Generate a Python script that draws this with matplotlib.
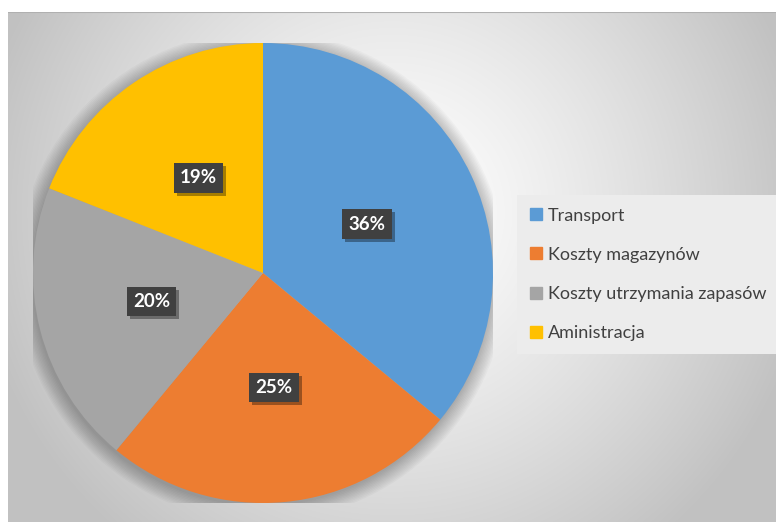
import numpy as np
import matplotlib.pyplot as plt
from matplotlib.lines import Line2D
from matplotlib.patches import Circle, Rectangle

plt.rcParams['font.family'] = ['Lato', 'DejaVu Sans']

categories = ['Transport', 'Koszty magazynów', 'Koszty utrzymania zapasów', 'Aministracja']
shares = [36, 25, 20, 19]
colors = ['#5b9bd5', '#ed7d31', '#a5a5a5', '#ffc000']

W, H = 776, 522
fig = plt.figure(figsize=(W / 100, H / 100), dpi=100)
fig.patch.set_facecolor('white')

# gradient background of the chart area
bg = fig.add_axes([8 / W, 0, 1 - 8 / W, 1 - 12 / H])
yy, xx = np.mgrid[0:510, 0:768]
d = np.sqrt(((xx - 384) / 420.0) ** 2 + ((yy - 200) / 420.0) ** 2)
shade = 1.0 - 0.24 * np.clip(d, 0, 1) ** 1.3
bg.imshow(np.dstack([shade] * 3), aspect='auto', extent=[0, 1, 0, 1], origin='upper')
bg.axhline(1, color='#b0b0b0', lw=1.5)
bg.set_axis_off()

cx, cy, r = 263, 273, 230
ax = fig.add_axes([(cx - r) / W, (H - cy - r) / H, 2 * r / W, 2 * r / H])

# soft shadow under the pie
for k in range(12):
    ax.add_patch(Circle((-0.006, -0.012), 1.0 + 0.006 * k, color='black',
                        alpha=0.022, lw=0, zorder=0))

wedges, _, autotexts = ax.pie(shares, colors=colors, startangle=90, counterclock=False,
                              autopct='%d%%', pctdistance=0.5, radius=1.0,
                              wedgeprops=dict(linewidth=0))
for w in wedges:
    w.set_zorder(2)

for t in autotexts:
    t.set_color('white')
    t.set_fontsize(13.5)
    t.set_fontweight('bold')
    t.set_zorder(4)
    t.set_bbox(dict(boxstyle='square,pad=0.33', fc='#404040', ec='none'))

ax.set_xlim(-1, 1)
ax.set_ylim(-1, 1)
ax.set_aspect('auto')
ax.set_axis_off()

handles = [Line2D([], [], marker='s', ls='none', markersize=8, color=c) for c in colors]
leg = fig.legend(handles, categories, loc='upper left',
                 bbox_to_anchor=(517 / W, 1 - 195 / H), frameon=True,
                 facecolor='#ececec', edgecolor='none', framealpha=1, fancybox=False,
                 fontsize=13, labelcolor='#404040', handlelength=0.7,
                 handletextpad=0.3, labelspacing=1.28, borderpad=0.7, borderaxespad=0)

# drop shadows behind the label boxes
fig.canvas.draw()
renderer = fig.canvas.get_renderer()
for t in autotexts:
    bb = t.get_bbox_patch().get_window_extent(renderer)
    (x0, y0), (x1, y1) = ax.transData.inverted().transform([[bb.x0 + 3, bb.y0 - 3],
                                                            [bb.x1 + 3, bb.y1 - 3]])
    ax.add_patch(Rectangle((x0, y0), x1 - x0, y1 - y0, fc='black', ec='none',
                           alpha=0.35, zorder=3))

fig.savefig('out.png', dpi=100)
